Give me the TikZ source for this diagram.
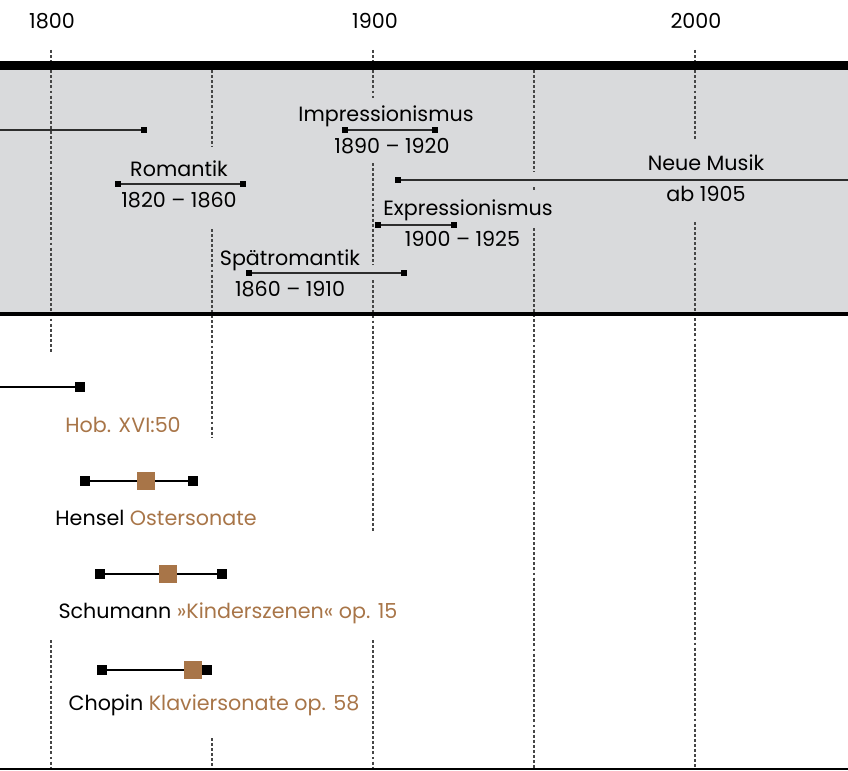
\documentclass[tikz,border=0pt]{standalone}
\usepackage{fontspec}
\setmainfont{Poppins}
\usetikzlibrary{positioning}

\definecolor{bandgray}{RGB}{217,218,220}
\definecolor{werk}{RGB}{168,117,72}
\definecolor{gridgray}{RGB}{70,70,70}
\definecolor{epoch}{RGB}{45,45,45}

\tikzset{
  lbl/.style={font=\fontsize{15.5}{18}\selectfont, inner sep=0pt, anchor=base},
  grid/.style={gridgray, line width=0.8pt, dash pattern=on 2.2pt off 1.6pt},
  epochline/.style={epoch, line width=1pt},
  epochend/.style={fill=black, inner sep=0pt, minimum size=4.5pt},
  workline/.style={black, line width=1.5pt},
  workend/.style={fill=black, inner sep=0pt, minimum size=7.5pt},
  workmark/.style={fill=werk, inner sep=0pt, minimum size=14pt}
}

\begin{document}
\begin{tikzpicture}[x=0.75pt, y=-0.75pt]
    \useasboundingbox (0,0) rectangle (848,770);

    % band of epochs
    \fill[bandgray] (0,70) rectangle (848,313);

    % year grid
    \foreach \gx/\ya/\yb in {51/50/353, 51/640/770,
                             212/70/147, 212/229/438, 212/738/770,
                             373/50/98, 373/163/265, 373/280/532, 373/640/770,
                             534/70/172, 534/187/192, 534/228/770,
                             695/50/140, 695/222/770}
        \draw[grid] (\gx,\ya) -- (\gx,\yb);

    \fill (0,61) rectangle (848,70);
    \fill (0,312) rectangle (848,316);
    \fill (0,767.5) rectangle (848,770);

    \node[lbl] (y1800) at (52,29) {1800};
    \node[lbl] (y1900) at (375,29) {1900};
    \node[lbl] (y2000) at (696,29) {2000};

    % epochs
    \coordinate (kla-in) at (0,130);
    \node[epochend] (kla-b) at (144,130) {};
    \draw[epochline] (kla-in) -- (kla-b);

    \node[epochend] (imp-a) at (345,130) {};
    \node[epochend] (imp-b) at (435,130) {};
    \draw[epochline] (imp-a) -- (imp-b);
    \node[lbl] (imp-name) at (386,122) {Impressionismus};
    \node[lbl] (imp-date) at (392,153) {1890 – 1920};

    \node[epochend] (rom-a) at (118,184) {};
    \node[epochend] (rom-b) at (243,184) {};
    \draw[epochline] (rom-a) -- (rom-b);
    \node[lbl] (rom-name) at (179,176) {Romantik};
    \node[lbl] (rom-date) at (179,207) {1820 – 1860};

    \node[epochend] (neu-a) at (398,180) {};
    \coordinate (neu-out) at (848,180);
    \draw[epochline] (neu-a) -- (neu-out);
    \node[lbl] (neu-name) at (706,170.5) {Neue Musik};
    \node[lbl] (neu-date) at (706,201.5) {ab 1905};

    \node[epochend] (exp-a) at (378,225) {};
    \node[epochend] (exp-b) at (454,225) {};
    \draw[epochline] (exp-a) -- (exp-b);
    \node[lbl] (exp-name) at (468,215) {Expressionismus};
    \node[lbl] (exp-date) at (462.5,246) {1900 – 1925};

    \node[epochend] (spr-a) at (249,273) {};
    \node[epochend] (spr-b) at (404,273) {};
    \draw[epochline] (spr-a) -- (spr-b);
    \node[lbl] (spr-name) at (290,265) {Spätromantik};
    \node[lbl] (spr-date) at (290,296) {1860 – 1910};

    % works
    \coordinate (hay-in) at (0,387);
    \node[workend] (hay-b) at (80,387) {};
    \draw[workline] (hay-in) -- (hay-b);
    \node[lbl, werk] (hay-txt) at (123,432) {Hob. XVI:50};

    \node[workend] (hen-a) at (85,481) {};
    \node[workend] (hen-b) at (193,481) {};
    \draw[workline] (hen-a) -- (hen-b);
    \node[workmark] (hen-w) at (146,481) {};
    \node[lbl] (hen-txt) at (156,525) {Hensel \textcolor{werk}{Ostersonate}};

    \node[workend] (sch-a) at (100,574) {};
    \node[workend] (sch-b) at (222,574) {};
    \draw[workline] (sch-a) -- (sch-b);
    \node[workmark] (sch-w) at (168,574) {};
    \node[lbl] (sch-txt) at (228,618) {Schumann \textcolor{werk}{»Kinderszenen« op. 15}};

    \node[workend] (cho-a) at (102,670) {};
    \node[workend] (cho-b) at (207,670) {};
    \draw[workline] (cho-a) -- (cho-b);
    \node[workmark] (cho-w) at (193,670) {};
    \node[lbl] (cho-txt) at (214,710.5) {Chopin \textcolor{werk}{Klaviersonate op. 58}};
\end{tikzpicture}
\end{document}
